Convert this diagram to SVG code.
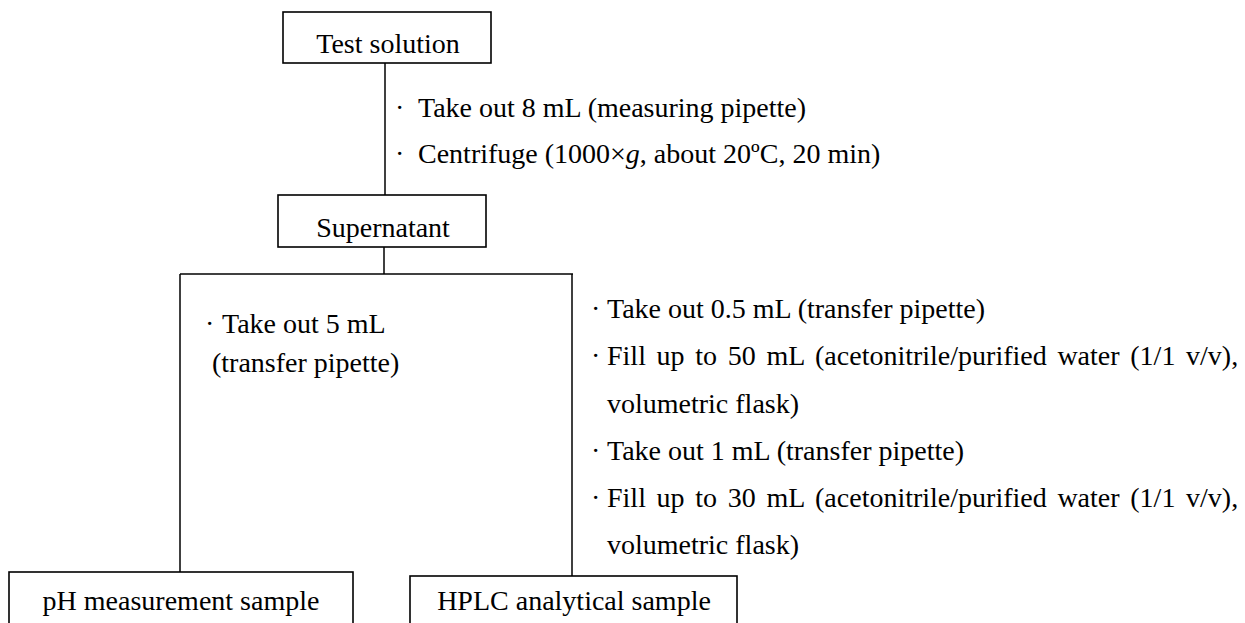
<svg xmlns="http://www.w3.org/2000/svg" width="1245" height="623" viewBox="0 0 1245 623">
<style>
.box{fill:#fff;stroke:#000;stroke-width:1.6}
.ln{fill:none;stroke:#000;stroke-width:1.5}
.t{font-family:'Liberation Serif','Times New Roman','DejaVu Serif',serif;font-size:28px;fill:#000}
.c{text-anchor:middle}
.j{word-spacing:3.7px}
</style>
<rect width="1245" height="623" fill="#fff"/>
<g id="connectors">
<line class="ln" x1="385" y1="63" x2="385" y2="195"/>
<line class="ln" x1="384" y1="247" x2="384" y2="274"/>
<line class="ln" x1="180" y1="274" x2="573" y2="274"/>
<line class="ln" x1="180" y1="274" x2="180" y2="572"/>
<line class="ln" x1="572" y1="274" x2="572" y2="576"/>
</g>
<g id="step1-notes">
<text class="t" y="117"><tspan x="395">·</tspan><tspan x="418">Take out 8 mL (measuring pipette)</tspan></text>
<text class="t" y="163"><tspan x="395">·</tspan><tspan x="418">Centrifuge (1000×<tspan font-style="italic">g</tspan>, about 20ºC, 20 min)</tspan></text>
</g>
<g id="node-test-solution">
<rect class="box" x="283" y="12" width="208" height="51"/>
<text class="t c" x="388" y="53">Test solution</text>
</g>
<g id="node-supernatant">
<rect class="box" x="278" y="195" width="208" height="52"/>
<text class="t c" x="383" y="237">Supernatant</text>
</g>
<g id="left-notes">
<text class="t" y="333"><tspan x="205">·</tspan><tspan x="222">Take out 5 mL</tspan></text>
<text class="t" x="212" y="372">(transfer pipette)</text>
</g>
<g id="right-notes">
<text class="t" y="318"><tspan x="591">·</tspan><tspan x="607">Take out 0.5 mL (transfer pipette)</tspan></text>
<text class="t j" y="365"><tspan x="591">·</tspan><tspan x="607">Fill up to 50 mL (acetonitrile/purified water (1/1 v/v),</tspan></text>
<text class="t" x="607" y="413">volumetric flask)</text>
<text class="t" y="460"><tspan x="591">·</tspan><tspan x="607">Take out 1 mL (transfer pipette)</tspan></text>
<text class="t j" y="507"><tspan x="591">·</tspan><tspan x="607">Fill up to 30 mL (acetonitrile/purified water (1/1 v/v),</tspan></text>
<text class="t" x="607" y="554">volumetric flask)</text>
</g>
<g id="node-ph">
<rect class="box" x="9" y="572" width="344" height="70"/>
<text class="t c" x="181" y="610">pH measurement sample</text>
</g>
<g id="node-hplc">
<rect class="box" x="410" y="576" width="327" height="66"/>
<text class="t c" x="574" y="610">HPLC analytical sample</text>
</g>
</svg>
